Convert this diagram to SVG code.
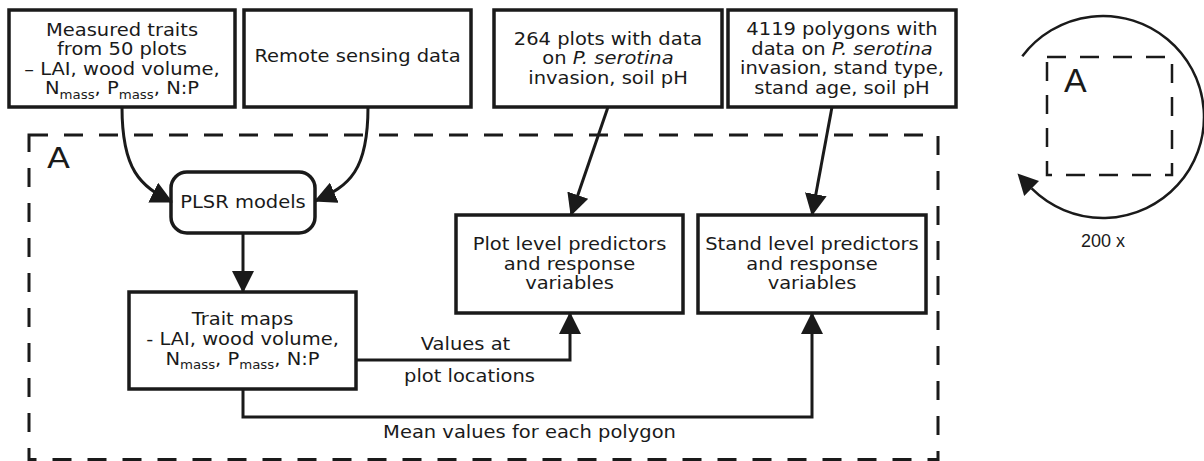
<svg xmlns="http://www.w3.org/2000/svg" width="1204" height="461" viewBox="0 0 1204 461">
<style>
.box{fill:#fff;stroke:#1a1a1a;stroke-width:3.5}
.ln{fill:none;stroke:#1a1a1a;stroke-width:3}
.t{font-family:"DejaVu Sans",sans-serif;font-size:16.8px;fill:#1a1a1a;text-anchor:middle}
.sub{font-size:11.5px}
.dash{fill:none;stroke:#1a1a1a;stroke-width:3;stroke-dasharray:19 16}
.h{font-family:"Liberation Sans",Arial,sans-serif;fill:#1a1a1a}
</style>
<defs>
<marker id="arr" markerUnits="userSpaceOnUse" viewBox="0 0 22 22" markerWidth="22" markerHeight="22" refX="21" refY="11" orient="auto">
<path d="M0,0 L22,11 L0,22 z" fill="#1a1a1a"/>
</marker>
</defs>
<rect fill="#fff" width="1204" height="461"/>

<g id="regionA">
<rect class="dash" x="29" y="135" width="909" height="324.5"/>
<text class="t" transform="matrix(1.16 0 0 1 47 168)" style="font-size:29px;text-anchor:start">A</text>
</g>

<g id="measured">
<rect class="box" x="9" y="10" width="226" height="97"/>
<text class="t" transform="matrix(1.16 0 0 1 122 35.5)">Measured traits</text>
<text class="t" transform="matrix(1.16 0 0 1 122 55)">from 50 plots</text>
<text class="t" transform="matrix(1.16 0 0 1 122 74.5)">– LAI, wood volume,</text>
<text class="t" transform="matrix(1.16 0 0 1 122 94)">N<tspan class="sub" dy="4.5">mass</tspan><tspan dy="-4.5">, P</tspan><tspan class="sub" dy="4.5">mass</tspan><tspan dy="-4.5">, N:P</tspan></text>
</g>

<g id="remote">
<rect class="box" x="244" y="10" width="227" height="97"/>
<text class="t" transform="matrix(1.16 0 0 1 357.5 61.5)">Remote sensing data</text>
</g>

<g id="plots264">
<rect class="box" x="494" y="10" width="228" height="97"/>
<text class="t" transform="matrix(1.16 0 0 1 608 44.5)">264 plots with data</text>
<text class="t" transform="matrix(1.16 0 0 1 608 64)">on <tspan font-style="italic">P. serotina</tspan></text>
<text class="t" transform="matrix(1.16 0 0 1 608 83.5)">invasion, soil pH</text>
</g>

<g id="polygons4119">
<rect class="box" x="728" y="10" width="228" height="97"/>
<text class="t" transform="matrix(1.16 0 0 1 842 35)">4119 polygons with</text>
<text class="t" transform="matrix(1.16 0 0 1 842 54.5)">data on <tspan font-style="italic">P. serotina</tspan></text>
<text class="t" transform="matrix(1.16 0 0 1 842 74)">invasion, stand type,</text>
<text class="t" transform="matrix(1.16 0 0 1 842 93.5)">stand age, soil pH</text>
</g>

<g id="plsr">
<rect class="box" x="171" y="172" width="144" height="61" rx="16" ry="16"/>
<text class="t" transform="matrix(1.16 0 0 1 243 208)">PLSR models</text>
</g>

<g id="traitmaps">
<rect class="box" x="129" y="292" width="227" height="97"/>
<text class="t" transform="matrix(1.16 0 0 1 242.5 325)">Trait maps</text>
<text class="t" transform="matrix(1.16 0 0 1 242.5 345)">- LAI, wood volume,</text>
<text class="t" transform="matrix(1.16 0 0 1 242.5 364.5)">N<tspan class="sub" dy="4.5">mass</tspan><tspan dy="-4.5">, P</tspan><tspan class="sub" dy="4.5">mass</tspan><tspan dy="-4.5">, N:P</tspan></text>
</g>

<g id="plotlevel">
<rect class="box" x="456" y="215" width="227" height="98"/>
<text class="t" transform="matrix(1.16 0 0 1 569.5 250)">Plot level predictors</text>
<text class="t" transform="matrix(1.16 0 0 1 569.5 269.5)">and response</text>
<text class="t" transform="matrix(1.16 0 0 1 569.5 289)">variables</text>
</g>

<g id="standlevel">
<rect class="box" x="698" y="215" width="228" height="98"/>
<text class="t" transform="matrix(1.16 0 0 1 812 250)">Stand level predictors</text>
<text class="t" transform="matrix(1.16 0 0 1 812 269.5)">and response</text>
<text class="t" transform="matrix(1.16 0 0 1 812 289)">variables</text>
</g>

<g id="connectors">
<path class="ln" d="M122,107 C122,170 140,186 172,202" marker-end="url(#arr)"/>
<path class="ln" d="M368,107 C368,170 350,186 315,201" marker-end="url(#arr)"/>
<path class="ln" d="M608,107 L571,215" marker-end="url(#arr)"/>
<path class="ln" d="M832,107 L812,215" marker-end="url(#arr)"/>
<path class="ln" d="M243,233 L243,292" marker-end="url(#arr)"/>
<path class="ln" d="M356,360 L570,360 L570,313" marker-end="url(#arr)"/>
<path class="ln" d="M243,389 L243,417 L812,417 L812,313" marker-end="url(#arr)"/>
<text class="t" transform="matrix(1.16 0 0 1 465.5 350)">Values at</text>
<text class="t" transform="matrix(1.16 0 0 1 469.5 382)">plot locations</text>
<text class="t" transform="matrix(1.16 0 0 1 529.5 438)">Mean values for each polygon</text>
</g>

<g id="iteration">
<rect fill="none" stroke="#1a1a1a" stroke-width="2.5" stroke-dasharray="19 14" x="1047" y="57" width="125" height="118"/>
<text class="h" x="1064" y="92" font-size="34">A</text>
<path fill="none" stroke="#1a1a1a" stroke-width="2.5" d="M1022.3,56.2 A101,101 0 1 1 1031.6,188.4"/>
<polygon fill="#1a1a1a" points="1017.5,173.5 1039,181 1024.2,196"/>
<text class="h" x="1103" y="247" font-size="18" text-anchor="middle">200 x</text>
</g>
</svg>
